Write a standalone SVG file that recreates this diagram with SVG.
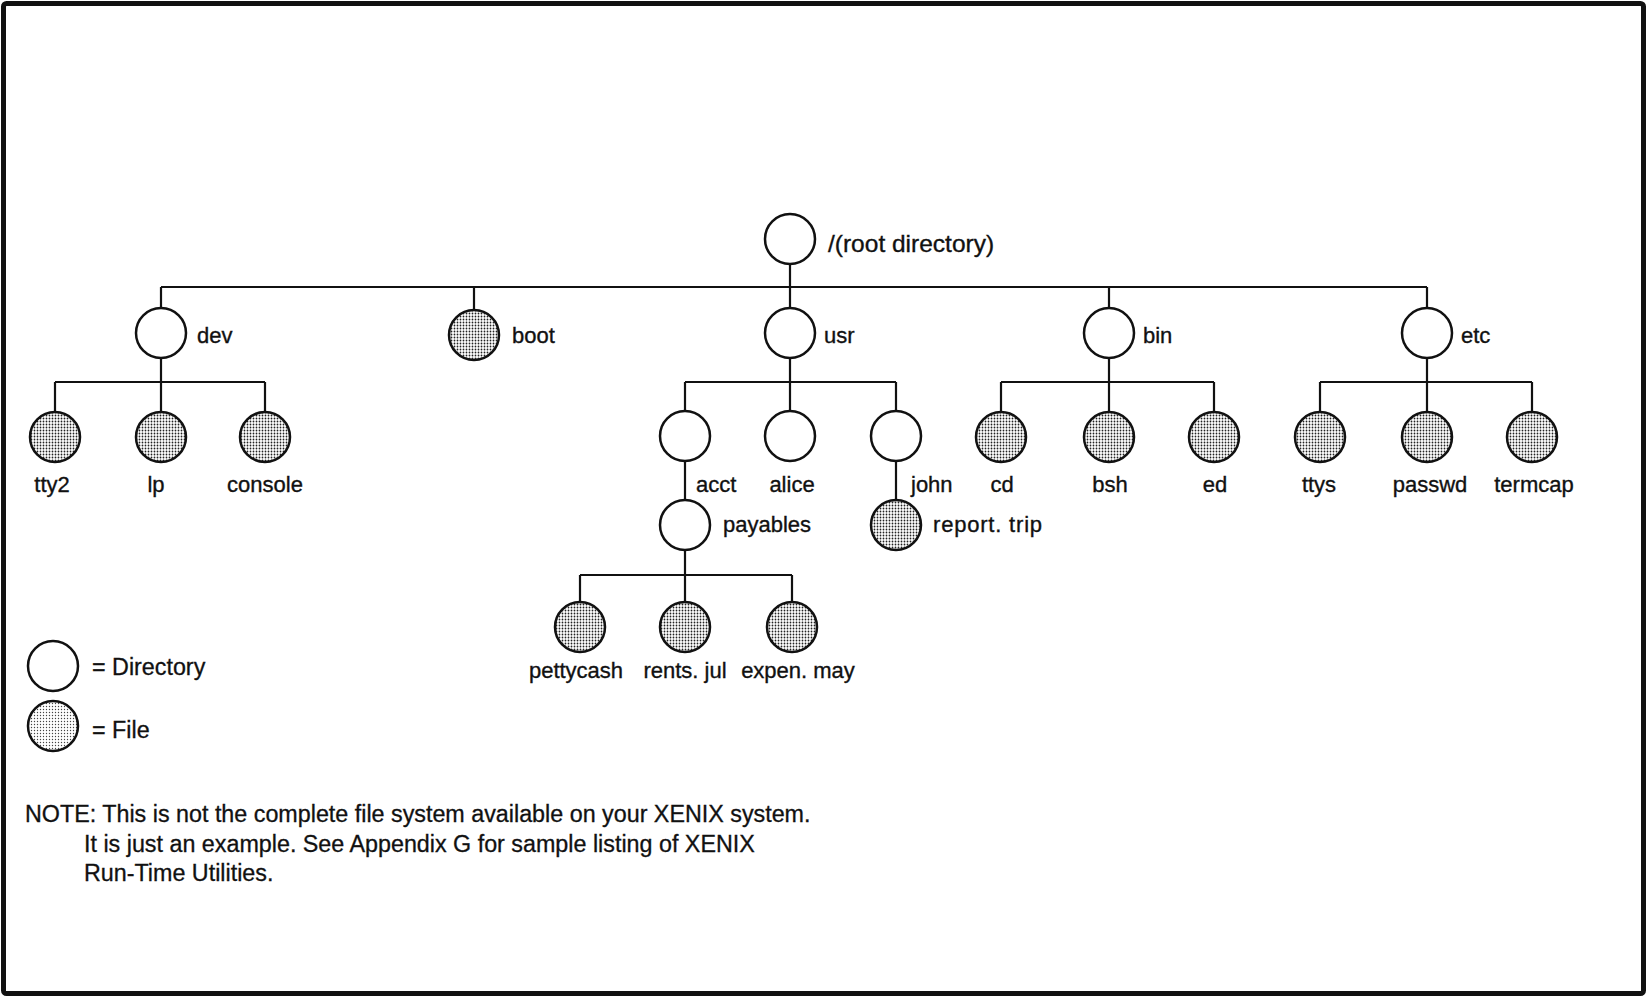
<svg xmlns="http://www.w3.org/2000/svg" width="1651" height="999" viewBox="0 0 1651 999">
<defs>
<pattern id="stip" width="3" height="3" patternUnits="userSpaceOnUse">
<rect width="3" height="3" fill="#ffffff"/>
<circle cx="1.5" cy="1.5" r="0.9" fill="#222"/>
</pattern>
<pattern id="stipLight" width="3" height="3" patternUnits="userSpaceOnUse">
<rect width="3" height="3" fill="#ffffff"/>
<circle cx="1.5" cy="1.5" r="0.7" fill="#444"/>
</pattern>
</defs>
<style>
.dir{fill:#ffffff;stroke:#111;stroke-width:2.5}
.file{fill:url(#stip);stroke:#111;stroke-width:2.5}
.filel{fill:url(#stipLight);stroke:#111;stroke-width:2.5}
.conn{stroke:#111;stroke-width:2.2;fill:none}
.lbl{font-family:'Liberation Sans',Arial,sans-serif;font-size:22px;fill:#111;stroke:#111;stroke-width:0.35}
.mid{text-anchor:middle}
.root{font-size:24.5px}
.note{font-family:'Liberation Sans',Arial,sans-serif;font-size:23.3px;fill:#111;stroke:#111;stroke-width:0.3}
</style>
<rect x="1" y="1" width="1649" height="997" fill="#ffffff"/>
<rect x="3.5" y="3.5" width="1640" height="990" rx="3" fill="none" stroke="#111" stroke-width="5"/>

<g id="connectors">
<path class="conn" d="M790 264V287M161 287H1427M161 287V308M474 287V310M790 287V308M1109 287V308M1427 287V308"/>
<path class="conn" d="M161 358V382M55 382H265M55 382V412M161 382V412M265 382V412"/>
<path class="conn" d="M790 358V382M685 382H896M685 382V411M790 382V411M896 382V411"/>
<path class="conn" d="M1109 358V382M1001 382H1214M1001 382V412M1109 382V412M1214 382V412"/>
<path class="conn" d="M1427 358V382M1320 382H1532M1320 382V412M1427 382V412M1532 382V412"/>
<path class="conn" d="M685 461V500M896 461V500"/>
<path class="conn" d="M685 550V575M580 575H792M580 575V602M685 575V602M792 575V602"/>
</g>

<g id="root"><circle class="dir" cx="790" cy="239" r="25"/><text class="lbl root" x="828" y="252">/(root directory)</text></g>

<g id="dev"><circle class="dir" cx="161" cy="333" r="25"/><text class="lbl" x="197" y="343">dev</text></g>
<g id="boot"><circle class="file" cx="474" cy="335" r="25"/><text class="lbl" x="512" y="343">boot</text></g>
<g id="usr"><circle class="dir" cx="790" cy="333" r="25"/><text class="lbl" x="824" y="343">usr</text></g>
<g id="bin"><circle class="dir" cx="1109" cy="333" r="25"/><text class="lbl" x="1143" y="343">bin</text></g>
<g id="etc"><circle class="dir" cx="1427" cy="333" r="25"/><text class="lbl" x="1461" y="343">etc</text></g>

<g id="tty2"><circle class="file" cx="55" cy="437" r="25"/><text class="lbl mid" x="52" y="492">tty2</text></g>
<g id="lp"><circle class="file" cx="161" cy="437" r="25"/><text class="lbl mid" x="156" y="492">lp</text></g>
<g id="console"><circle class="file" cx="265" cy="437" r="25"/><text class="lbl mid" x="265" y="492">console</text></g>

<g id="acct"><circle class="dir" cx="685" cy="436" r="25"/><text class="lbl" x="696" y="492">acct</text></g>
<g id="alice"><circle class="dir" cx="790" cy="436" r="25"/><text class="lbl mid" x="792" y="492">alice</text></g>
<g id="john"><circle class="dir" cx="896" cy="436" r="25"/><text class="lbl" x="911" y="492">john</text></g>

<g id="cd"><circle class="file" cx="1001" cy="437" r="25"/><text class="lbl mid" x="1002" y="492">cd</text></g>
<g id="bsh"><circle class="file" cx="1109" cy="437" r="25"/><text class="lbl mid" x="1110" y="492">bsh</text></g>
<g id="ed"><circle class="file" cx="1214" cy="437" r="25"/><text class="lbl mid" x="1215" y="492">ed</text></g>

<g id="ttys"><circle class="file" cx="1320" cy="437" r="25"/><text class="lbl mid" x="1319" y="492">ttys</text></g>
<g id="passwd"><circle class="file" cx="1427" cy="437" r="25"/><text class="lbl mid" x="1430" y="492">passwd</text></g>
<g id="termcap"><circle class="file" cx="1532" cy="437" r="25"/><text class="lbl mid" x="1534" y="492">termcap</text></g>

<g id="payables"><circle class="dir" cx="685" cy="525" r="25"/><text class="lbl" x="723" y="532">payables</text></g>
<g id="report-trip"><circle class="file" cx="896" cy="525" r="25"/><text class="lbl" x="933" y="532" letter-spacing="0.8">report. trip</text></g>

<g id="pettycash"><circle class="file" cx="580" cy="627" r="25"/><text class="lbl mid" x="576" y="678">pettycash</text></g>
<g id="rents-jul"><circle class="file" cx="685" cy="627" r="25"/><text class="lbl mid" x="685" y="678">rents. jul</text></g>
<g id="expen-may"><circle class="file" cx="792" cy="627" r="25"/><text class="lbl mid" x="798" y="678">expen. may</text></g>

<g id="legend">
<circle class="dir" cx="53" cy="666" r="25"/><text class="note" x="92" y="675">= Directory</text>
<circle class="filel" cx="53" cy="726" r="25"/><text class="note" x="92" y="738">= File</text>
</g>

<g id="note">
<text class="note" x="25" y="822">NOTE: This is not the complete file system available on your XENIX system.</text>
<text class="note" x="84" y="852">It is just an example. See Appendix G for sample listing of XENIX</text>
<text class="note" x="84" y="881">Run-Time Utilities.</text>
</g>
</svg>
